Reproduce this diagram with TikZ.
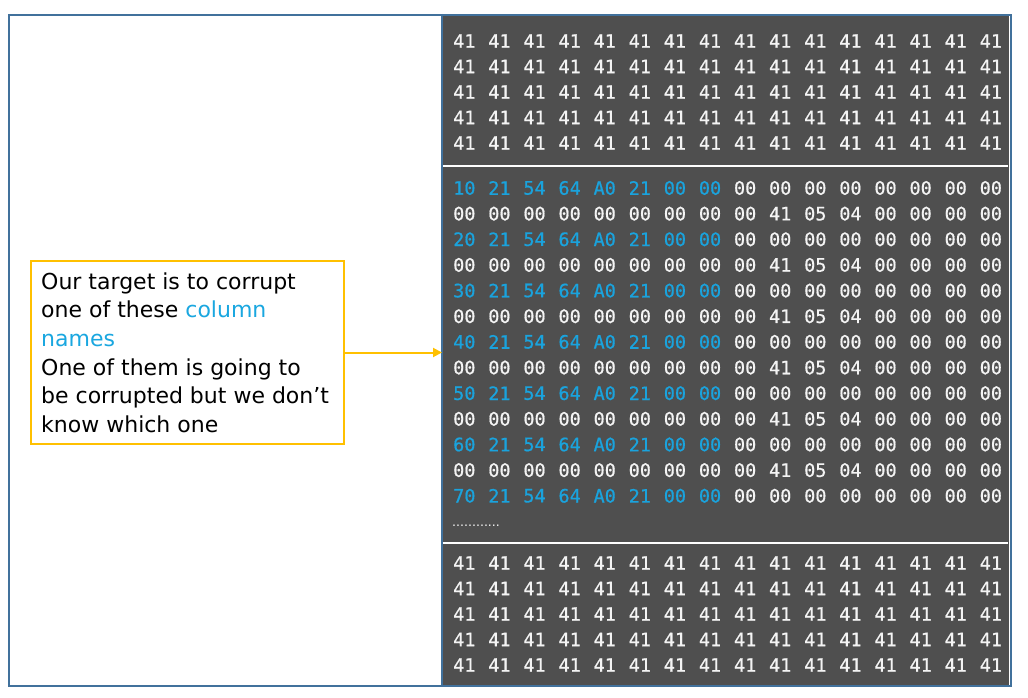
\documentclass[tikz,border=0pt]{standalone}
\usepackage{fontspec}
\setmainfont{DejaVu Sans}
\newfontfamily\hexfont[FakeBold=0.7]{DejaVu Sans Mono}
\usetikzlibrary{arrows.meta}
\definecolor{frameblue}{HTML}{41719C}
\definecolor{panelgray}{HTML}{4F4F4F}
\definecolor{hexblue}{HTML}{1AA3DD}
\definecolor{noteyellow}{HTML}{FFC000}
\definecolor{textblue}{HTML}{1AA7E0}
\definecolor{hexwhite}{HTML}{F4F4F4}
\begin{document}
\begin{tikzpicture}[x=1pt,y=-1pt,
  hex/.style={anchor=west, inner sep=0pt, font=\hexfont\fontsize{18.5}{18.5}\selectfont, text=hexwhite},
  hexb/.style={hex, text=hexblue},
  noteline/.style={anchor=base west, inner sep=0pt, font=\fontsize{22}{22}\selectfont, text=black},
  sepline/.style={white, line width=2pt},
]
\useasboundingbox[fill=white] (0,0) rectangle (1028,698);
% dark panel
\node[fill=panelgray, inner sep=0pt, minimum width=567pt, minimum height=671pt, anchor=north west] (panel) at (442,14) {};
\draw[sepline] (443,166) -- (1008,166);
\draw[sepline] (443,543) -- (1008,543);
% top block
\foreach \r in {0,...,4}
  \foreach \c in {0,...,15}
    \node[hex] (t-\r-\c) at ({453+35.1*\c},{41+25.5*\r}) {41};
% middle block: column name rows
\foreach \k [evaluate=\k as \y using 188+25.65*2*(\k-1)] in {1,...,7}{
  \foreach \v [count=\c from 0] in {\k0,21,54,64,A0,21,00,00}
    \node[hexb] (m-\k-\c) at ({453+35.1*\c},\y) {\v};
  \foreach \c in {8,...,15}
    \node[hex] (m-\k-\c) at ({453+35.1*\c},\y) {00};
}
% middle block: other rows
\foreach \k [evaluate=\k as \y using 188+25.65*(2*\k-1)] in {1,...,6}{
  \foreach \v [count=\c from 0] in {00,00,00,00,00,00,00,00,00,41,05,04,00,00,00,00}
    \node[hex] (n-\k-\c) at ({453+35.1*\c},\y) {\v};
}
\node[anchor=west, inner sep=0pt, font=\fontsize{12.5}{12.5}\selectfont, text=hexwhite] (dots) at (452,526) {............};
% bottom block
\foreach \r in {0,...,4}
  \foreach \c in {0,...,15}
    \node[hex] (b-\r-\c) at ({453+35.1*\c},{563+25.5*\r}) {41};
% outer frame
\node[draw=frameblue, line width=2pt, inner sep=0pt, minimum width=1002pt, minimum height=671pt, anchor=north west] (frame) at (8,14) {};
\draw[frameblue, line width=2pt] (panel.north west) -- (panel.south west);
% note box
\node[draw=noteyellow, line width=2pt, fill=white, inner sep=0pt, minimum width=313pt, minimum height=183pt, anchor=north west] (note) at (30,260) {};
\node[noteline] (l1) at (41,289) {Our target is to corrupt};
\node[noteline] (l2) at (41,317.7) {one of these \textcolor{textblue}{column}};
\node[noteline, text=textblue] (l3) at (41,346.4) {names};
\node[noteline] (l4) at (41,375.1) {One of them is going to};
\node[noteline] (l5) at (41,403.8) {be corrupted but we don’t};
\node[noteline] (l6) at (41,432.5) {know which one};
\draw[noteyellow, line width=2pt, -{Triangle[length=9pt,width=9pt]}] (note.east) -- (note.east -| panel.west);
\end{tikzpicture}
\end{document}
